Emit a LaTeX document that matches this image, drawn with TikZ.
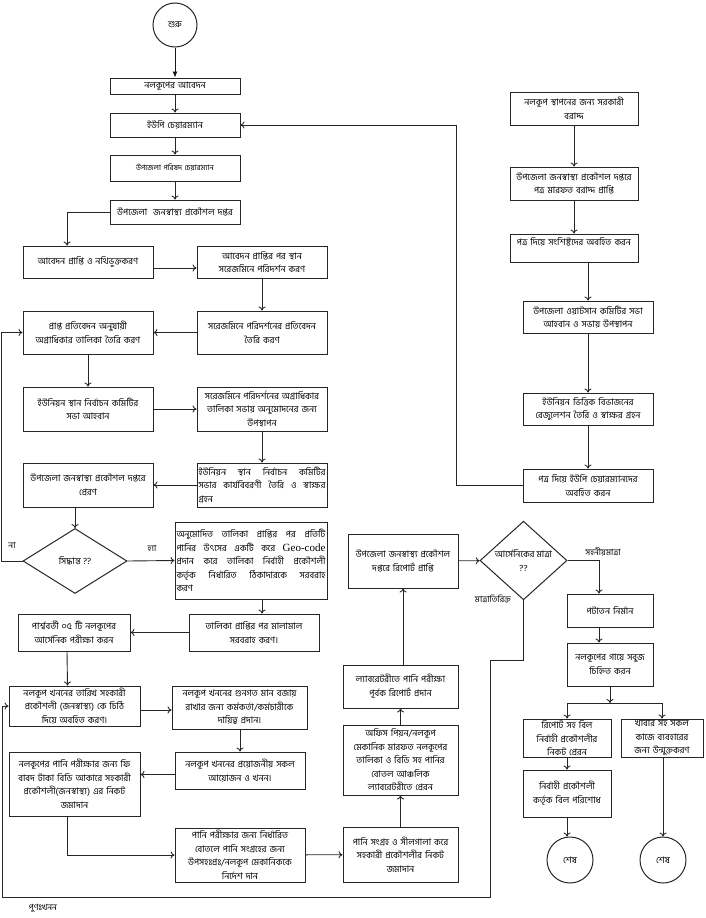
\documentclass[tikz,border=0pt]{standalone}
\usepackage{fontspec}
\setmainfont[Script=Bengali]{Hind Siliguri}
\newfontfamily\latfont{Liberation Serif}
\usetikzlibrary{arrows.meta,shapes.geometric}

\begin{document}
\begin{tikzpicture}[x=1pt,y=-1pt,
        box/.style={rectangle, draw=black!85, line width=1pt, align=center, inner xsep=2pt, inner ysep=1pt, font=\fontsize{9}{13.5}\selectfont},
        jbox/.style={box, align=justify, inner xsep=1.5pt},
        endpt/.style={circle, draw=black!85, line width=1pt, minimum size=44pt, inner sep=0pt, font=\fontsize{9}{13.5}\selectfont},
        decide/.style={diamond, draw=black!85, line width=1pt, inner sep=0pt, align=center, font=\fontsize{9}{13.5}\selectfont},
        lbl/.style={inner sep=1pt, font=\fontsize{8.5}{10}\selectfont},
        flow/.style={->, line width=0.9pt, draw=black!85},
        >={To[length=4pt,width=7pt]}]
        \useasboundingbox (0,0) rectangle (706,918);

        % Application path
        \node[endpt] (start) at (175,25) {শুরু};
        \node[box, text width=126pt, minimum height=16pt] (app) at (175,86) {নলকূপের আবেদন};
        \node[box, text width=126pt, minimum height=24pt] (upc) at (175,125) {ইউপি চেয়ারম্যান};
        \node[box, text width=126pt, minimum height=26pt, font=\fontsize{7.5}{10}\selectfont] (uzc) at (175,168) {উপজেলা পরিষদ চেয়ারম্যান};
        \node[box, text width=126pt, minimum height=24pt] (dphe) at (175,212) {উপজেলা\ \ জনস্বাস্থ্য প্রকৌশল দপ্তর};

        % Site selection
        \node[box, text width=126pt, minimum height=32pt] (recv) at (88,262) {আবেদন প্রাপ্তি ও নথিভুক্তকরণ};
        \node[box, text width=126pt, minimum height=32pt] (visit) at (262,262) {আবেদন প্রাপ্তির পর স্থান\\সরেজমিনে পরিদর্শন করণ};
        \node[box, text width=126pt, minimum height=43pt] (report) at (262,332.5) {সরেজমিনে পরিদর্শনের প্রতিবেদন\\তৈরি করণ};
        \node[box, text width=126pt, minimum height=43pt] (prio) at (88,332.5) {প্রাপ্ত প্রতিবেদন অনুযায়ী\\অগ্রাধিকার তালিকা তৈরি করণ};
        \node[box, text width=126pt, minimum height=44pt] (meet) at (88,409) {ইউনিয়ন স্থান নির্বাচন কমিটির\\সভা আহবান};
        \node[box, text width=126pt, minimum height=44pt] (present) at (262,409) {সরেজমিনে পরিদর্শনের অগ্রাধিকার\\তালিকা সভায় অনুমোদনের জন্য\\উপস্থাপন};
        \node[jbox, text width=127pt, minimum height=44pt] (minutes) at (262,485) {ইউনিয়ন স্থান নির্বাচন কমিটির \linebreak সভার কার্যবিবরণী তৈরি ও স্বাক্ষর \linebreak গ্রহন};
        \node[box, text width=126pt, minimum height=44pt] (send) at (88,485) {উপজেলা জনস্বাস্থ্য প্রকৌশল দপ্তরে\\প্রেরণ};
        \node[decide, minimum width=104pt, minimum height=65pt] (dec) at (75,561) {সিদ্ধান্ত ??};
        \node[jbox, text width=149pt, minimum height=77pt] (geo) at (251,560.5) {অনুমোদিত তালিকা প্রাপ্তির পর প্রতিটি \linebreak পানির উৎসের একটি করে {\latfont\fontsize{11}{13}\selectfont Geo-code} \linebreak প্রদান করে তালিকা নির্বাহী প্রকৌশলী \linebreak কর্তৃক নির্ধারিত ঠিকাদারকে সরবরাহ \linebreak করণ};

        % Drilling
        \node[box, text width=126pt, minimum height=37pt] (supply) at (254,632.5) {তালিকা প্রাপ্তির পর মালামাল\\সরবরাহ করণ।};
        \node[box, text width=108pt, minimum height=37pt] (near) at (74,632.5) {পার্শ্ববর্তী ০৫ টি নলকূপের\\আর্সেনিক পরীক্ষা করন};
        \node[box, text width=127pt, minimum height=40pt] (date) at (74.5,706) {নলকূপ খননের তারিখ সহকারী\\প্রকৌশলী (জনস্বাস্থ্য) কে চিঠি\\দিয়ে অবহিত করণ।};
        \node[box, text width=131pt, minimum height=43pt] (duty) at (239.5,707.5) {নলকূপ খননের গুনগত মান বজায়\\রাখার জন্য কর্মকর্তা/কর্মচারীকে\\দায়িত্ব প্রদান।};
        \node[box, text width=126pt, minimum height=37pt] (drill) at (240,770.5) {নলকূপ খননের প্রয়োজনীয় সকল\\আয়োজন ও খনন।};
        \node[box, text width=127pt, minimum height=64pt] (fee) at (74.5,784) {নলকূপের পানি পরীক্ষার জন্য ফি\\বাবদ টাকা বিডি আকারে সহকারী\\প্রকৌশলী(জনস্বাস্থ্য) এর নিকট\\জমাদান};
        \node[box, text width=126pt, minimum height=54pt] (bottle) at (240,855) {পানি পরীক্ষার জন্য নির্ধারিত\\বোতলে পানি সংগ্রহের জন্য\\উপসহঃপ্রঃ/নলকূপ মেকানিককে\\নির্দেশ দান};

        % Water test
        \node[box, text width=111pt, minimum height=55pt] (seal) at (400.5,854.5) {পানি সংগ্রহ ও সীলগালা করে\\সহকারী প্রকৌশলীর নিকট\\জমাদান};
        \node[box, text width=111pt, minimum height=70pt] (lab) at (400.5,760) {অফিস পিয়ন/নলকূপ\\মেকানিক মারফত নলকূপের\\তালিকা ও বিডি সহ পানির\\বোতল আঞ্চলিক\\ল্যাবরেটরীতে প্রেরন};
        \node[box, text width=111pt, minimum height=43pt] (test) at (400.5,686.5) {ল্যাবরেটরীতে পানি পরীক্ষা\\পূর্বক রিপোর্ট প্রদান};
        \node[box, text width=106pt, minimum height=54pt] (got) at (403,561) {উপজেলা জনস্বাস্থ্য প্রকৌশল\\দপ্তরে রিপোর্ট প্রাপ্তি};
        \node[decide, minimum width=87pt, minimum height=65pt] (ars) at (523.5,560.5) {আর্সেনিকের মাত্রা\\??};

        % Completion
        \node[box, text width=82pt, minimum height=33pt] (plat) at (610,610.5) {পটাতন নির্মান};
        \node[box, text width=82pt, minimum height=43pt] (green) at (610,664.5) {নলকূপের গায়ে সবুজ\\চিহ্নিত করন};
        \coordinate (split) at (610,703);
        \node[box, text width=84pt, minimum height=38pt] (bill) at (567,738) {রিপোর্ট সহ বিল\\নির্বাহী প্রকৌশলীর\\নিকট প্রেরন};
        \node[box, text width=78pt, minimum height=38pt] (open) at (662,738) {খাবার সহ সকল\\কাজে ব্যবহারের\\জন্য উন্মুক্তকরণ};
        \node[box, text width=84pt, minimum height=47pt] (pay) at (567,793.5) {নির্বাহী প্রকৌশলী\\কর্তৃক বিল পরিশোধ};
        \node[endpt, minimum size=46pt] (end1) at (570,860) {শেষ};
        \node[endpt, minimum size=46pt] (end2) at (663,860) {শেষ};

        % Allocation
        \node[box, text width=124pt, minimum height=33pt] (alloc) at (574,108.5) {নলকূপ স্থাপনের জন্য সরকারী\\বরাদ্দ};
        \node[box, text width=124pt, minimum height=33pt] (letter) at (574,183.5) {উপজেলা জনস্বাস্থ্য প্রকৌশল দপ্তরে\\পত্র মারফত বরাদ্দ প্রাপ্তি};
        \node[box, text width=124pt, minimum height=28pt] (inform) at (574,248) {পত্র দিয়ে সংশিষ্টদের অবহিত করন\\~};
        \node[box, text width=126pt, minimum height=32pt] (watsan) at (588,317) {উপজেলা ওয়াটসান কমিটির সভা\\আহবান ও সভায় উপস্থাপন};
        \node[box, text width=126pt, minimum height=32pt] (resol) at (588,409) {ইউনিয়ন ভিত্তিক বিভাজনের\\রেজুলেশন তৈরি ও স্বাক্ষর গ্রহন};
        \node[box, text width=126pt, minimum height=33pt] (notify) at (588,485.5) {পত্র দিয়ে ইউপি চেয়ারম্যানদের\\অবহিত করন};

        % Labels
        \node[lbl] (no) at (12,545) {না};
        \node[lbl] (yes) at (152,548) {হ্যা};
        \node[lbl] (safe) at (603,552) {সহনীয়মাত্রা};
        \node[lbl] (over) at (493,599) {মাত্রাতিরিক্ত};
        \node[lbl] (redrill) at (43,908) {পুণঃখনন};

        % Links
        \draw[line width=0.9pt, draw=black!90, -{Latex[length=6pt,width=5pt]}] (start) -- (app);
        \draw[flow] (app) -- (upc);
        \draw[flow] (upc) -- (uzc);
        \draw[flow] (uzc) -- (dphe);
        \draw[flow] (dphe.west) -| ([xshift=-21pt]recv.north);
        \draw[flow] ([yshift=-6pt]recv.east) -- ([yshift=-6pt]visit.west);
        \draw[flow] (visit) -- (report);
        \draw[flow] (report) -- (prio);
        \draw[flow] (prio) -- (meet);
        \draw[flow] (meet) -- (present);
        \draw[flow] (present) -- (minutes);
        \draw[flow] (minutes) -- (send);
        \draw[flow] (send.south -| dec.north) -- (dec.north);
        \draw[flow] (dec.west) -- ++(-21,0) |- (prio.west);
        \draw[flow] (dec.east) -- (geo.west);
        \draw[flow] ([xshift=11pt]geo.south) -- ([xshift=8pt]supply.north);
        \draw[flow] (supply) -- (near);
        \draw[flow] ([xshift=-7pt]near.south) -- ([xshift=-7pt]date.north);
        \draw[flow] ([yshift=-4pt]date.east) -- ([yshift=-4pt]date.east -| duty.west);
        \draw[flow] (duty.south -| drill.north) -- (drill.north);
        \draw[flow] ([yshift=-4pt]drill.west) -- ([yshift=-4pt]drill.west -| fee.east);
        \draw[flow] ([xshift=-7pt]fee.south) |- (bottle.west);
        \draw[flow] (bottle) -- (seal);
        \draw[flow] (seal) -- (lab);
        \draw[flow] (lab) -- (test);
        \draw[flow] ([xshift=2.5pt]test.north) -- ([xshift=2.5pt]test.north |- got.south);
        \draw[flow] (got) -- (ars);
        \draw[flow] (ars.east) -| ([xshift=-11pt]plat.north);
        \draw[flow] ([xshift=-11pt]plat.south) -- ([xshift=-11pt]green.north);
        \draw[flow] (green) -- (split);
        \draw[flow] (split) -| (bill.north);
        \draw[flow] (split) -| (open.north);
        \draw[flow] (bill) -- (pay);
        \draw[flow] (pay.south) -- (pay.south |- end1.north);
        \draw[flow] (open.south -| end2.north) -- (end2.north);
        \draw[flow] (ars.south) |- (490,660) |- (2,897) |- (date.west);
        \draw[flow] (alloc) -- (letter);
        \draw[flow] (letter) -- (inform);
        \draw[flow] (inform.south -| watsan.north) -- (watsan.north);
        \draw[flow] (watsan) -- (resol);
        \draw[flow] (resol) -- (notify);
        \draw[flow] (notify.west) -- ++(-66,0) |- (upc.east);
    \end{tikzpicture}
\end{document}
